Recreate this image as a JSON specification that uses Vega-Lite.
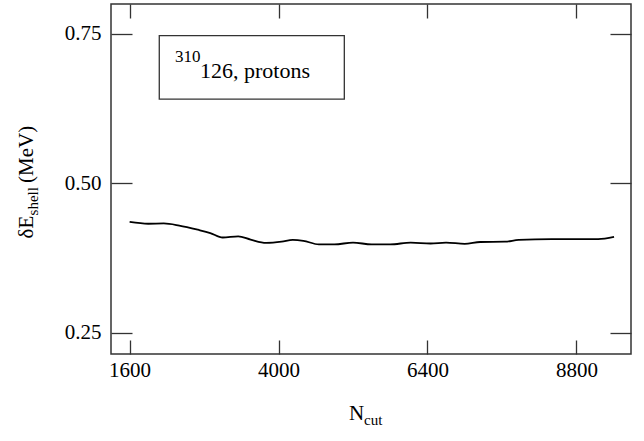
{
  "$schema": "https://vega.github.io/schema/vega-lite/v6.json",
  "width": 520,
  "height": 350,
  "autosize": {"type": "none"},
  "padding": {"left": 111, "top": 4, "right": 13, "bottom": 87},
  "background": "white",
  "config": {
    "font": "Liberation Serif",
    "view": {"stroke": "#333", "strokeWidth": 1.5},
    "axis": {"grid": false, "domain": false, "tickColor": "#333", "tickWidth": 1.3, "labelFont": "Liberation Serif", "labelFontSize": 21, "labelColor": "black", "title": null}
  },
  "datasets": {
    "curve": [
      {"N": 1600, "dE": 0.4355},
      {"N": 1900, "dE": 0.4325},
      {"N": 2150, "dE": 0.433},
      {"N": 2400, "dE": 0.4295},
      {"N": 2700, "dE": 0.4225},
      {"N": 2900, "dE": 0.417},
      {"N": 3100, "dE": 0.4095},
      {"N": 3350, "dE": 0.4115},
      {"N": 3550, "dE": 0.406},
      {"N": 3800, "dE": 0.4005},
      {"N": 4050, "dE": 0.4025},
      {"N": 4230, "dE": 0.4055},
      {"N": 4400, "dE": 0.404},
      {"N": 4650, "dE": 0.398},
      {"N": 4900, "dE": 0.398},
      {"N": 5200, "dE": 0.401},
      {"N": 5500, "dE": 0.398},
      {"N": 5800, "dE": 0.398},
      {"N": 6130, "dE": 0.401},
      {"N": 6450, "dE": 0.3995},
      {"N": 6700, "dE": 0.401},
      {"N": 7000, "dE": 0.399},
      {"N": 7250, "dE": 0.402},
      {"N": 7650, "dE": 0.4025},
      {"N": 7870, "dE": 0.4055},
      {"N": 8400, "dE": 0.4068},
      {"N": 9150, "dE": 0.4068},
      {"N": 9407, "dE": 0.4105}
    ],
    "box": [{"N1": 2078, "N2": 5060, "v1": 0.747, "v2": 0.641}],
    "labelMain": [{"t": "126, protons", "N": 2734, "v": 0.6758}],
    "labelSup": [{"t": "310", "N": 2331, "v": 0.7035}],
    "titleMain": [
      {"t": "δE", "N": 43, "v": 0.408},
      {"t": "(MeV)", "N": 43, "v": 0.5007}
    ],
    "titleSubY": [{"t": "shell", "N": 124, "v": 0.4465}],
    "titleX": [{"t": "N", "N": 5135, "v": 0.1043}],
    "titleSubX": [{"t": "cut", "N": 5377, "v": 0.096}]
  },
  "resolve": {"axis": {"x": "independent", "y": "independent"}},
  "layer": [
    {
      "data": {"name": "curve"},
      "mark": {"type": "line", "color": "black", "strokeWidth": 1.8, "interpolate": "monotone"},
      "encoding": {
        "x": {"field": "N", "type": "quantitative", "scale": {"domain": [1300, 9680], "nice": false, "zero": false},
              "axis": {"orient": "bottom", "values": [1600, 4000, 6400, 8800], "tickSize": -14, "labelPadding": 19, "format": "d"}},
        "y": {"field": "dE", "type": "quantitative", "scale": {"domain": [0.2147, 0.8], "nice": false, "zero": false},
              "axis": {"orient": "left", "values": [0.25, 0.5, 0.75], "tickSize": -21, "labelPadding": 31, "format": ".2f"}}
      }
    },
    {
      "data": {"name": "curve"},
      "mark": {"type": "point", "opacity": 0},
      "encoding": {
        "x": {"field": "N", "type": "quantitative", "axis": {"orient": "top", "values": [1600, 4000, 6400, 8800], "tickSize": -14, "labels": false}},
        "y": {"field": "dE", "type": "quantitative", "axis": {"orient": "right", "values": [0.25, 0.5, 0.75], "tickSize": -21, "labels": false}}
      }
    },
    {
      "data": {"name": "box"},
      "mark": {"type": "rect", "fill": "white", "fillOpacity": 0, "stroke": "#333", "strokeWidth": 1.3},
      "encoding": {
        "x": {"field": "N1", "type": "quantitative", "axis": null},
        "x2": {"field": "N2"},
        "y": {"field": "v1", "type": "quantitative", "axis": null},
        "y2": {"field": "v2"}
      }
    },
    {
      "data": {"name": "labelMain"},
      "mark": {"type": "text", "align": "left", "baseline": "alphabetic", "fontSize": 22, "font": "Liberation Serif", "color": "black"},
      "encoding": {"x": {"field": "N", "type": "quantitative", "axis": null}, "y": {"field": "v", "type": "quantitative", "axis": null}, "text": {"field": "t"}}
    },
    {
      "data": {"name": "labelSup"},
      "mark": {"type": "text", "align": "left", "baseline": "alphabetic", "fontSize": 17, "font": "Liberation Serif", "color": "black"},
      "encoding": {"x": {"field": "N", "type": "quantitative", "axis": null}, "y": {"field": "v", "type": "quantitative", "axis": null}, "text": {"field": "t"}}
    },
    {
      "data": {"name": "titleMain"},
      "mark": {"type": "text", "align": "left", "baseline": "alphabetic", "fontSize": 21, "font": "Liberation Serif", "color": "black", "angle": 270, "clip": false},
      "encoding": {"x": {"field": "N", "type": "quantitative", "axis": null}, "y": {"field": "v", "type": "quantitative", "axis": null}, "text": {"field": "t"}}
    },
    {
      "data": {"name": "titleSubY"},
      "mark": {"type": "text", "align": "left", "baseline": "alphabetic", "fontSize": 15, "font": "Liberation Serif", "color": "black", "angle": 270, "clip": false},
      "encoding": {"x": {"field": "N", "type": "quantitative", "axis": null}, "y": {"field": "v", "type": "quantitative", "axis": null}, "text": {"field": "t"}}
    },
    {
      "data": {"name": "titleX"},
      "mark": {"type": "text", "align": "left", "baseline": "alphabetic", "fontSize": 21, "font": "Liberation Serif", "color": "black", "clip": false},
      "encoding": {"x": {"field": "N", "type": "quantitative", "axis": null}, "y": {"field": "v", "type": "quantitative", "axis": null}, "text": {"field": "t"}}
    },
    {
      "data": {"name": "titleSubX"},
      "mark": {"type": "text", "align": "left", "baseline": "alphabetic", "fontSize": 15, "font": "Liberation Serif", "color": "black", "clip": false},
      "encoding": {"x": {"field": "N", "type": "quantitative", "axis": null}, "y": {"field": "v", "type": "quantitative", "axis": null}, "text": {"field": "t"}}
    }
  ]
}
